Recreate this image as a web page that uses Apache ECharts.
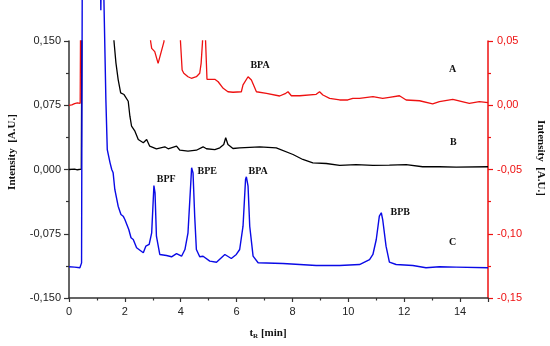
<!DOCTYPE html>
<html><head><meta charset="utf-8">
<script src="https://cdn.jsdelivr.net/npm/echarts@6/dist/echarts.min.js"></script>
<style>html,body{margin:0;padding:0;background:#fff}#c{width:550px;height:346px}</style>
</head><body><div id="c"></div>
<script>
// Trace A (red, right axis)
const tA = [0, 0.1, 0.2, 0.3, 0.36, 0.40, 0.42, 2.90, 2.92, 2.96, 3.01, 3.07, 3.19, 3.25, 3.40, 3.43, 3.96, 3.99, 4.05, 4.11, 4.26, 4.38, 4.56, 4.68, 4.73, 4.78, 4.83, 4.89, 4.94, 5.22, 5.34, 5.52, 5.69, 5.87, 6.17, 6.23, 6.41, 6.53, 6.71, 7.07, 7.54, 7.76, 7.84, 7.96, 8.26, 8.85, 8.97, 9.09, 9.33, 9.69, 9.98, 10.16, 10.40, 10.88, 11.23, 11.47, 11.83, 12.07, 12.55, 13.02, 13.26, 13.74, 14.33, 14.69, 15];
const vA = [0.000, 0.0003, 0.0012, 0.0018, 0.0012, 0.0015, 0.09, 0.09, 0.050, 0.0443, 0.0456, 0.0417, 0.0326, 0.0339, 0.0495, 0.09, 0.09, 0.050, 0.0274, 0.0249, 0.0222, 0.0210, 0.0222, 0.0249, 0.0326, 0.0495, 0.09, 0.0495, 0.0202, 0.0202, 0.0183, 0.0132, 0.0105, 0.0101, 0.0105, 0.0158, 0.0222, 0.0196, 0.0105, 0.0093, 0.0072, 0.0093, 0.0105, 0.0074, 0.0074, 0.0085, 0.0105, 0.0080, 0.0054, 0.0041, 0.0041, 0.0054, 0.0054, 0.0067, 0.0054, 0.0062, 0.0074, 0.0041, 0.0035, 0.0010, 0.0028, 0.0046, 0.0015, 0.0028, 0.0020];
// Trace B (black, left axis)
const tB = [0, 0.2, 0.3, 0.44, 0.48, 1.55, 1.61, 1.68, 1.76, 1.85, 1.92, 1.97, 2.04, 2.12, 2.18, 2.24, 2.30, 2.36, 2.48, 2.66, 2.78, 2.89, 3.13, 3.43, 3.55, 3.85, 3.97, 4.26, 4.56, 4.80, 4.92, 5.22, 5.40, 5.54, 5.61, 5.69, 5.87, 6.11, 6.83, 7.42, 8.02, 8.37, 8.73, 9.21, 9.69, 10.28, 10.88, 11.47, 12.07, 12.66, 13.26, 13.86, 15];
const vB = [0, 0.0005, -0.0003, 0.0004, 0.3, 0.3, 0.150, 0.1245, 0.105, 0.0895, 0.0914, 0.0875, 0.0895, 0.0797, 0.0622, 0.0505, 0.0514, 0.0447, 0.0350, 0.0312, 0.0350, 0.0272, 0.0242, 0.0265, 0.0242, 0.0272, 0.0225, 0.0214, 0.0225, 0.0265, 0.0242, 0.0233, 0.0253, 0.0292, 0.0370, 0.0292, 0.0245, 0.0253, 0.0265, 0.0253, 0.0175, 0.0117, 0.0078, 0.0070, 0.0047, 0.0058, 0.0047, 0.0050, 0.0058, 0.0032, 0.0032, 0.0027, 0.0032];
// Trace C (blue, left axis)
const tC = [0, 0.2, 0.39, 0.45, 0.48, 1.10, 1.14, 1.18, 1.22, 1.25, 1.32, 1.37, 1.47, 1.53, 1.58, 1.64, 1.76, 1.86, 1.94, 2.00, 2.06, 2.14, 2.22, 2.30, 2.42, 2.66, 2.75, 2.87, 2.96, 3.04, 3.08, 3.13, 3.25, 3.49, 3.67, 3.85, 4.03, 4.15, 4.26, 4.39, 4.44, 4.50, 4.56, 4.68, 4.80, 5.04, 5.28, 5.58, 5.64, 5.81, 5.99, 6.11, 6.23, 6.32, 6.35, 6.41, 6.47, 6.59, 6.77, 7.66, 8.26, 8.85, 9.69, 10.40, 10.76, 10.88, 11.00, 11.11, 11.18, 11.23, 11.35, 11.47, 11.71, 12.31, 12.78, 13.26, 13.86, 15];
const vC = [-0.1136, -0.1140, -0.1147, -0.109, 0.30, 0.30, 0.186, 0.30, 0.30, 0.198, 0.0817, 0.0233, 0.0078, 0.000, -0.0039, -0.0233, -0.0428, -0.0525, -0.0545, -0.0584, -0.0575, -0.0700, -0.0797, -0.0817, -0.0914, -0.0972, -0.0895, -0.0875, -0.0739, -0.0187, -0.0272, -0.0779, -0.0992, -0.1004, -0.1019, -0.0981, -0.1012, -0.0934, -0.0739, 0.0020, -0.0039, -0.0545, -0.0934, -0.1019, -0.1012, -0.1070, -0.1082, -0.0992, -0.0972, -0.1039, -0.0992, -0.0934, -0.0662, -0.0117, -0.0085, -0.0195, -0.0662, -0.1012, -0.1089, -0.1097, -0.1109, -0.1121, -0.1121, -0.1109, -0.1051, -0.0992, -0.0817, -0.0545, -0.0505, -0.0584, -0.0895, -0.1082, -0.1109, -0.1121, -0.1147, -0.1136, -0.1140, -0.1147];
// Annotations (data coordinates)
const labelText = ['BPA', 'A', 'B', 'C', 'BPF', 'BPE', 'BPA', 'BPB'];
const labelT = [6.84, 13.73, 13.76, 13.73, 3.48, 4.95, 6.77, 11.86];
const labelV = [0.0309, 0.1167, 0.0312, -0.0856, -0.0117, -0.0018, -0.0020, -0.0505];
const labelAxis = [1, 0, 0, 0, 0, 0, 0, 0];

const RED = '#ee1111', BLUE = '#0a0ae6', AXC = '#333';
const zip = (t, v) => t.map((x, i) => [x, v[i]]);
const fmt = d => v => { if (Math.abs(v) < 1e-9) v = 0; return v.toFixed(d).replace('.', ','); };
const serif = '"Liberation Serif", "DejaVu Serif", serif';
const sans = '"Liberation Sans", Arial, sans-serif';

const chart = echarts.init(document.getElementById('c'), null, {renderer: 'canvas'});
chart.setOption({
  animation: false,
  backgroundColor: '#fff',
  grid: {left: 69, right: 62, top: 41, bottom: 48},
  xAxis: {
    type: 'value', min: 0, max: 15, interval: 2,
    axisLine: {show: true, onZero: false, lineStyle: {color: AXC, width: 1.5}},
    axisTick: {show: true, length: 4, lineStyle: {color: AXC, width: 1.2}},
    minorTick: {show: true, splitNumber: 2, length: 2.5, lineStyle: {color: AXC, width: 1.2}},
    axisLabel: {color: '#222', fontFamily: sans, fontSize: 11, margin: 8,
      formatter: v => (v % 2 === 0 && v < 15) ? String(v) : ''},
    splitLine: {show: false}
  },
  yAxis: [{
    type: 'value', min: -0.15, max: 0.15, interval: 0.075, position: 'left',
    axisLine: {show: true, onZero: false, lineStyle: {color: AXC, width: 1.5}},
    axisTick: {show: true, length: 5, lineStyle: {color: AXC, width: 1.2}},
    minorTick: {show: true, splitNumber: 2, length: 3, lineStyle: {color: AXC, width: 1.2}},
    axisLabel: {color: '#222', fontFamily: sans, fontSize: 11, margin: 8, formatter: fmt(3)},
    splitLine: {show: false}
  }, {
    type: 'value', min: -0.15, max: 0.05, interval: 0.05, position: 'right',
    axisLine: {show: true, onZero: false, lineStyle: {color: RED, width: 1.5}},
    axisTick: {show: true, length: 5, lineStyle: {color: RED, width: 1.2}},
    minorTick: {show: true, splitNumber: 2, length: 3, lineStyle: {color: RED, width: 1.2}},
    axisLabel: {color: RED, fontFamily: sans, fontSize: 11, margin: 9, formatter: fmt(2)},
    splitLine: {show: false}
  }],
  series: [
    {name: 'A', type: 'line', yAxisIndex: 1, data: zip(tA, vA), showSymbol: false, symbol: 'none',
      lineStyle: {color: RED, width: 1.3}, clip: true},
    {name: 'B', type: 'line', yAxisIndex: 0, data: zip(tB, vB), showSymbol: false, symbol: 'none',
      lineStyle: {color: '#000', width: 1.3}, clip: true},
    {name: 'C', type: 'line', yAxisIndex: 0, data: zip(tC, vC), showSymbol: false, symbol: 'none',
      lineStyle: {color: BLUE, width: 1.4}, clip: false}
  ]
});

const g = [];
labelText.forEach((txt, i) => {
  const p = chart.convertToPixel({xAxisIndex: 0, yAxisIndex: labelAxis[i]}, [labelT[i], labelV[i]]);
  g.push({type: 'text', x: p[0], y: p[1], style: {text: txt, fill: '#111', font: 'bold 10px ' + serif,
    align: 'center', verticalAlign: 'middle'}});
});
g.push({type: 'text', x: 12, y: 152, rotation: Math.PI / 2,
  style: {text: 'Intensity  [A.U.]', fill: '#111', font: 'bold 11px ' + serif, align: 'center', verticalAlign: 'middle'}});
g.push({type: 'text', x: 541, y: 158, rotation: -Math.PI / 2,
  style: {text: 'Intensity  [A.U.]', fill: '#111', font: 'bold 11px ' + serif, align: 'center', verticalAlign: 'middle'}});
g.push({type: 'text', x: 268, y: 333,
  style: {text: '{b|t}{s|R}{b| [min]}', align: 'center', verticalAlign: 'middle',
    rich: {b: {font: 'bold 11px ' + serif, fill: '#111'}, s: {font: 'bold 7px ' + serif, fill: '#111', padding: [6, 0, 0, 0]}}}});
chart.setOption({graphic: g});
</script>
</body></html>
